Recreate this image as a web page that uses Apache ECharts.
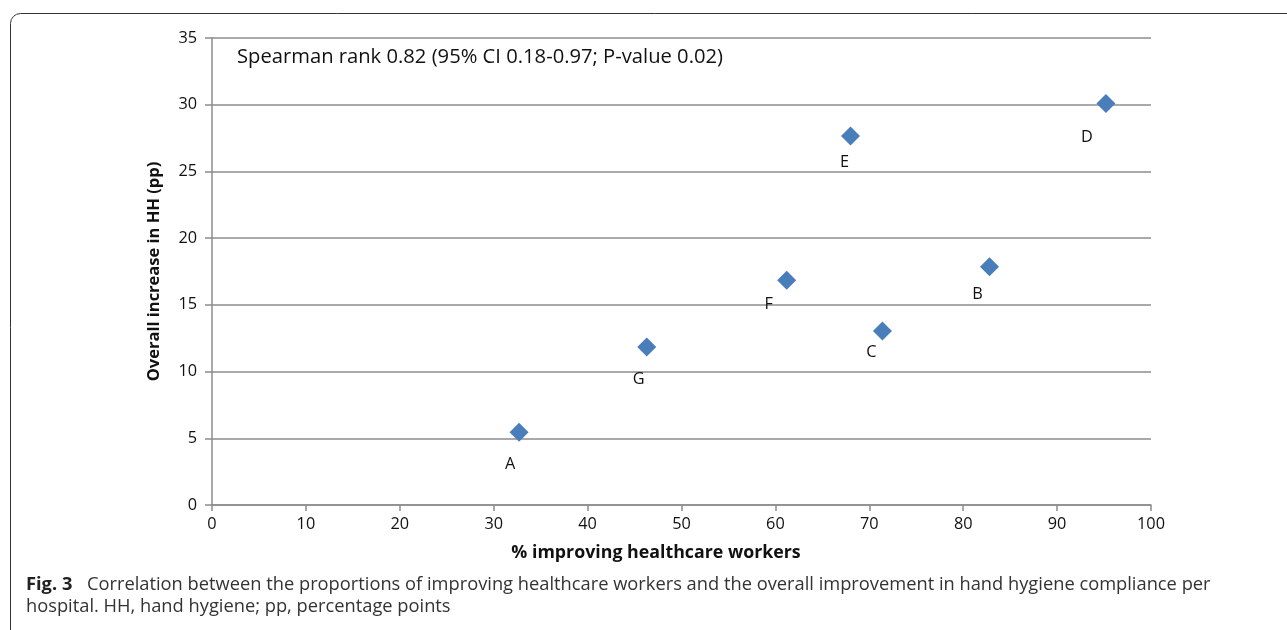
<!DOCTYPE html>
<html>
<head>
<meta charset="utf-8">
<script src="https://cdn.jsdelivr.net/npm/echarts@6/dist/echarts.min.js"></script>
<style>
  html, body { margin: 0; padding: 0; background: #fff; }
  #chart { width: 1287px; height: 630px; }
</style>
</head>
<body>
<div id="chart"></div>
<script>
// hospitals and their values
const hospitals = ["A", "G", "F", "E", "C", "B", "D"];
const improvingHCW = [32.7, 46.3, 61.2, 68.0, 71.4, 82.8, 95.2];
const increaseHH = [5.45, 11.85, 16.85, 27.65, 13.05, 17.85, 30.1];
// where each letter sits relative to its marker (px)
const labelOffsets = [[-9, 32], [-8, 32], [-18, 24], [-6, 26], [-11, 21], [-12, 28], [-19, 34]];

const xTitle = "% improving healthcare workers";
const yTitle = "Overall increase in HH (pp)";
const statsNote = "Spearman rank 0.82 (95% CI 0.18-0.97; P-value 0.02)";
const captionHead = "Fig. 3";
const captionLine1 = "Correlation between the proportions of improving healthcare workers and the overall improvement in hand hygiene compliance per";
const captionLine2 = "hospital. HH, hand hygiene; pp, percentage points";

const fontName = "'Open Sans'";
const font = fontName + ", sans-serif";
const gray = "#8c8c8c";

// pick a font size so a string takes up a given width
const ctx = document.createElement("canvas").getContext("2d");
function fitSize(text, width, weight = "normal") {
  ctx.font = weight + " 100px " + fontName;
  return +(100 * width / ctx.measureText(text).width).toFixed(1);
}
const tickSize = fitSize("100", 28);
const xTitleSize = fitSize(xTitle, 290, "bold");
const yTitleSize = fitSize(yTitle, 220, "bold");
const noteSize = fitSize(statsNote, 486);
const capSize = fitSize(captionLine1, 1126);

const myChart = echarts.init(document.getElementById("chart"));

const points = hospitals.map((h, i) => ({
  name: h,
  value: [improvingHCW[i], increaseHH[i]],
  label: { offset: labelOffsets[i] }
}));

const option = {
  animation: false,
  grid: { left: 212, right: 136, top: 38, bottom: 125 },
  xAxis: {
    type: "value",
    min: 0, max: 100, interval: 10,
    name: xTitle,
    nameLocation: "middle",
    nameGap: 48 - xTitleSize / 2,
    nameTextStyle: { fontFamily: font, fontWeight: "bold", fontSize: xTitleSize, color: "#111", padding: [0, 51, 0, 0] },
    axisLine: { lineStyle: { color: gray, width: 1.5 } },
    axisTick: { show: true, length: 6, lineStyle: { color: gray, width: 1.5 } },
    axisLabel: { fontFamily: font, fontSize: tickSize, color: "#111", margin: 11 },
    splitLine: { show: false }
  },
  yAxis: {
    type: "value",
    min: 0, max: 35, interval: 5,
    name: yTitle,
    nameLocation: "middle",
    nameGap: 57 - yTitleSize / 2,
    nameTextStyle: { fontFamily: font, fontWeight: "bold", fontSize: yTitleSize, color: "#111" },
    axisLine: { show: true, lineStyle: { color: gray, width: 1.5 } },
    axisTick: { show: true, length: 7, lineStyle: { color: gray, width: 1.5 } },
    axisLabel: { fontFamily: font, fontSize: tickSize, color: "#111", margin: 15 },
    splitLine: { show: true, lineStyle: { color: gray, width: 1.5 } }
  },
  series: [{
    type: "scatter",
    symbol: "diamond",
    symbolSize: [19, 19],
    itemStyle: { color: "#4a7ebb", opacity: 1 },
    label: {
      show: true,
      position: "inside",
      formatter: p => p.name,
      fontFamily: font,
      fontSize: tickSize,
      color: "#111"
    },
    data: points
  }],
  graphic: [
    {
      type: "rect",
      shape: { x: 10.5, y: 13.5, width: 1400, height: 800, r: 10 },
      style: { fill: null, stroke: "#333", lineWidth: 1 },
      silent: true
    },
    {
      type: "text",
      x: 237, y: 57,
      style: { text: statsNote, font: noteSize + "px " + font, fill: "#111", verticalAlign: "middle" }
    },
    {
      type: "text",
      x: 26, y: 585,
      style: { text: captionHead, font: "bold " + capSize + "px " + font, fill: "#222", verticalAlign: "middle" }
    },
    {
      type: "text",
      x: 87, y: 585,
      style: { text: captionLine1, font: capSize + "px " + font, fill: "#333", verticalAlign: "middle" }
    },
    {
      type: "text",
      x: 26, y: 607,
      style: { text: captionLine2, font: capSize + "px " + font, fill: "#333", verticalAlign: "middle" }
    }
  ]
};

option && myChart.setOption(option);
</script>
</body>
</html>
